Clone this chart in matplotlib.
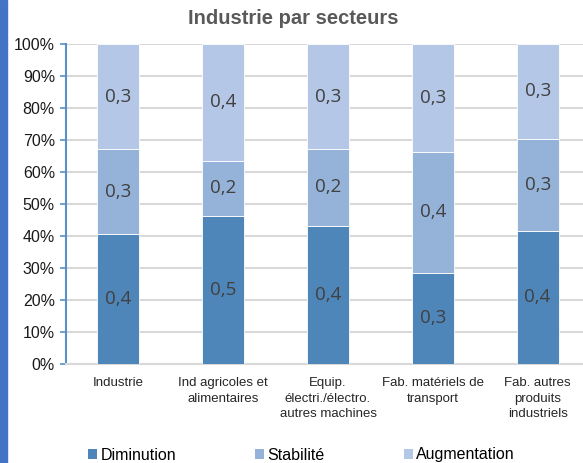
import matplotlib
matplotlib.use("Agg")
import matplotlib.pyplot as plt
from matplotlib.patches import Rectangle, Patch
import numpy as np

categories = ["Industrie", "Ind agricoles et\nalimentaires", "Equip.\nélectri./électro.\nautres machines",
              "Fab. matériels de\ntransport", "Fab. autres\nproduits\nindustriels"]
diminution = [0.405, 0.462, 0.431, 0.284, 0.415]
stabilite = [0.266, 0.173, 0.240, 0.379, 0.289]
augmentation = [0.329, 0.365, 0.329, 0.337, 0.296]
series_names = ["Diminution", "Stabilité", "Augmentation"]
colors = ["#4F86B9", "#95B3D9", "#B4C7E7"]
yticks = [0, 0.1, 0.2, 0.3, 0.4, 0.5, 0.6, 0.7, 0.8, 0.9, 1.0]

plt.rcParams['font.family'] = ['Liberation Sans', 'DejaVu Sans']

W, H = 583, 463
fig = plt.figure(figsize=(W/100, H/100), dpi=100)
fig.patches.append(Rectangle((0, 0), 7/W, 1, transform=fig.transFigure, color="#4472C4", zorder=0))

ax = fig.add_axes([66/W, 1-363.5/H, 1-66/W, (363.5-44)/H])
x = np.arange(len(categories))
bw = 42/104.9
bottom = np.zeros(len(categories))
for vals, c, name in zip([diminution, stabilite, augmentation], colors, series_names):
    vals = np.array(vals)
    ax.bar(x, vals, bw, bottom=bottom, color=c, edgecolor="white", linewidth=0.6, zorder=3, label=name)
    for xi, b, v in zip(x, bottom, vals):
        ax.text(xi, b + v/2, f"{v:.1f}".replace(".", ","), ha="center", va="center",
                fontsize=13.5, color="#404040", family=["Open Sans", "DejaVu Sans"], zorder=4)
    bottom = bottom + vals

ax.set_xlim(-0.5, (583-118)/104.9)
ax.set_ylim(0, 1)
ax.set_yticks(yticks)
ax.set_yticklabels([f"{int(round(t*100))}%" for t in yticks], fontsize=11.5, color="#1a1a1a")
ax.set_xticks(x)
ax.set_xticklabels(categories, fontsize=9.5, color="#262626", linespacing=1.35)
ax.tick_params(axis="x", length=0, pad=10)
ax.tick_params(axis="y", length=4, width=1.2, color="#5B8FC7", pad=4, direction="out")
ax.grid(axis="y", color="#D9D9D9", linewidth=1.5, zorder=0)
ax.set_axisbelow(True)
for s in ["top", "right"]:
    ax.spines[s].set_visible(False)
ax.spines["left"].set_color("#5B8FC7")
ax.spines["left"].set_linewidth(1.5)
ax.spines["bottom"].set_color("#D9D9D9")
ax.spines["bottom"].set_linewidth(1.5)

fig.text(293/W, 1-19/H, "Industrie par secteurs", ha="center", va="center",
         fontsize=14.5, fontweight="bold", color="#595959")

handles = [Patch(facecolor=c, edgecolor="none") for c in colors]
fig.legend(handles, series_names, loc="center left", bbox_to_anchor=(88/W, 1-455/H), ncol=3,
           frameon=False, fontsize=11.5, handlelength=0.58, handleheight=0.58, handletextpad=0.2,
           columnspacing=4.95, borderaxespad=0, borderpad=0)

fig.savefig("out.png", dpi=100)
